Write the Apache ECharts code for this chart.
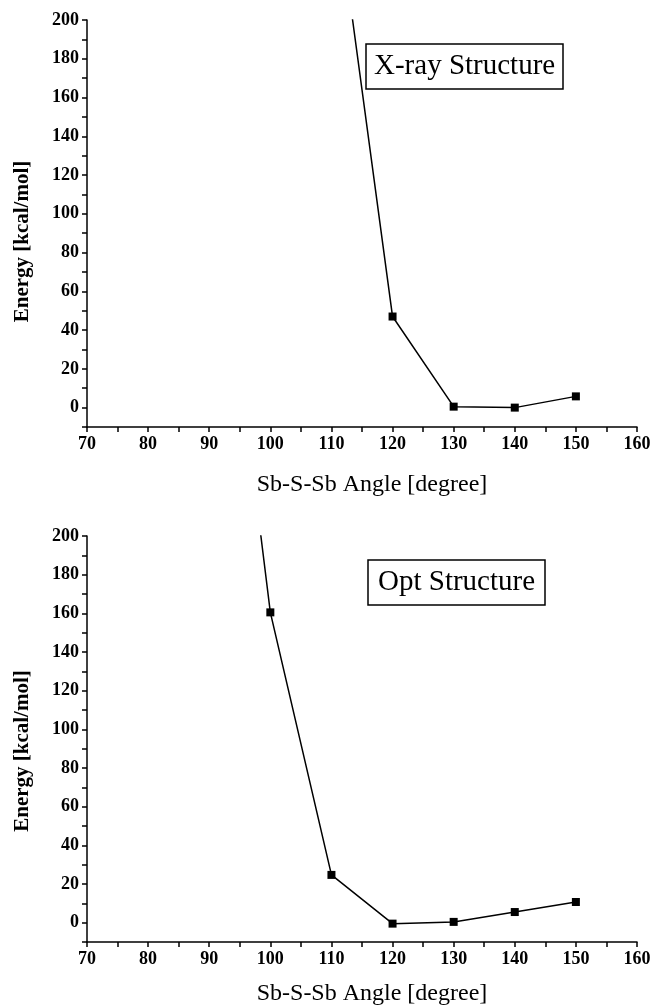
<!DOCTYPE html>
<html>
<head>
<meta charset="utf-8">
<script src="https://cdn.jsdelivr.net/npm/echarts@6/dist/echarts.min.js"></script>
<style>
  html, body { margin: 0; padding: 0; background: #fff; }
  #main { width: 655px; height: 1007px; }
</style>
</head>
<body>
<div id="main"></div>
<script>
// 数据: 上图 X-ray, 下图 Opt (第一个点在图外, 只画出线段)
var xrayAngles = [110, 120, 130, 140, 150]
var xrayEnergy = [281, 47, 0.5, 0, 5.8]
var optAngles = [90, 100, 110, 120, 130, 140, 150]
var optEnergy = [416, 160.5, 24.7, -0.5, 0.4, 5.5, 10.7]
var titles = ['X-ray Structure', 'Opt Structure']
var xName = 'Sb-S-Sb Angle [degree]'
var yName = 'Energy [kcal/mol]'

var font = '"Liberation Serif", "DejaVu Serif", serif'

function toPairs(xs, ys) {
  return xs.map(function (x, i) { return [x, ys[i]] })
}

function xAxis(idx, gap) {
  return {
    type: 'value', gridIndex: idx, min: 70, max: 160, interval: 10,
    name: xName, nameLocation: 'middle', nameGap: gap,
    nameTextStyle: { fontFamily: font, fontSize: 24, color: '#000', padding: [0, 0, 0, 20] },
    axisLine: { onZero: false, lineStyle: { color: '#000', width: 1.5 } },
    axisTick: { length: 5, lineStyle: { color: '#000', width: 1.5 } },
    minorTick: { show: true, splitNumber: 2, length: 5, lineStyle: { color: '#000', width: 1.5 } },
    axisLabel: { fontFamily: font, fontSize: 18, fontWeight: 'bold', color: '#000', margin: 8 },
    splitLine: { show: false }
  }
}

function yAxis(idx, shift) {
  return {
    type: 'value', gridIndex: idx, min: -10, max: 200, interval: 10,
    name: yName, nameLocation: 'middle', nameGap: 54, nameRotate: 90,
    nameTextStyle: { fontFamily: font, fontSize: 21, fontWeight: 'bold', color: '#000', padding: [0, shift, 0, 0] },
    axisLine: { show: true, onZero: false, lineStyle: { color: '#000', width: 1.5 } },
    axisTick: { show: true, length: 5, lineStyle: { color: '#000', width: 1.5 } },
    axisLabel: {
      fontFamily: font, fontSize: 18, fontWeight: 'bold', color: '#000', margin: 8,
      formatter: function (v) { return v % 20 === 0 ? String(v) : '' }
    },
    splitLine: { show: false }
  }
}

function series(idx, xs, ys) {
  return {
    type: 'line', xAxisIndex: idx, yAxisIndex: idx,
    data: toPairs(xs, ys),
    clip: true,
    symbol: 'rect', symbolSize: 8,
    lineStyle: { color: '#000', width: 1.5 },
    itemStyle: { color: '#000' }
  }
}

var myChart = echarts.init(document.getElementById('main'))

var option = {
  animation: false,
  backgroundColor: '#fff',
  title: [
    {
      text: titles[0], left: 366, top: 44,
      borderColor: '#000', borderWidth: 1.5, padding: [8, 8],
      textStyle: { fontFamily: font, fontSize: 29, fontWeight: 'normal', color: '#000' }
    },
    {
      text: titles[1], left: 368, top: 560,
      borderColor: '#000', borderWidth: 1.5, padding: [8, 10],
      textStyle: { fontFamily: font, fontSize: 29, fontWeight: 'normal', color: '#000' }
    }
  ],
  grid: [
    { left: 87, top: 20, width: 550, height: 407 },
    { left: 87, top: 536, width: 550, height: 406 }
  ],
  xAxis: [xAxis(0, 46), xAxis(1, 40)],
  yAxis: [yAxis(0, 36), yAxis(1, 24)],
  series: [
    series(0, xrayAngles, xrayEnergy),
    series(1, optAngles, optEnergy)
  ]
}

myChart.setOption(option)
</script>
</body>
</html>
